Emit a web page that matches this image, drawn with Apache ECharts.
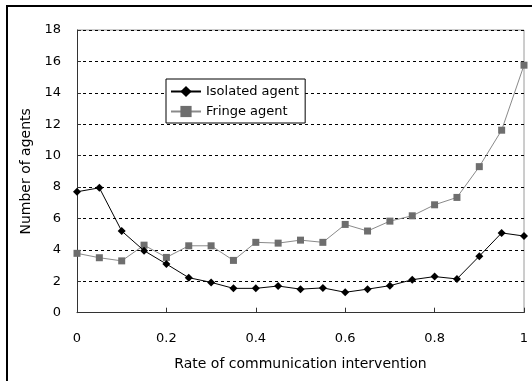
<!DOCTYPE html>
<html>
<head>
<meta charset="utf-8">
<script src="https://cdn.jsdelivr.net/npm/echarts@6/dist/echarts.min.js"></script>
<style>
html,body{margin:0;padding:0;background:#fff;}
#c{width:532px;height:381px;}
</style>
</head>
<body>
<div id="c"></div>
<script>
const rates = [0,0.05,0.1,0.15,0.2,0.25,0.3,0.35,0.4,0.45,0.5,0.55,0.6,0.65,0.7,0.75,0.8,0.85,0.9,0.95,1];
const isolatedAgent = [7.7,7.95,5.2,3.95,3.1,2.23,1.93,1.55,1.55,1.7,1.5,1.58,1.3,1.5,1.72,2.1,2.3,2.15,3.6,5.08,4.88];
const fringeAgent = [3.78,3.5,3.3,4.3,3.52,4.26,4.26,3.33,4.48,4.43,4.62,4.48,5.62,5.2,5.83,6.17,6.87,7.34,9.3,11.62,15.76];
const xTicks = [0,0.2,0.4,0.6,0.8,1];
const yTicks = [0,2,4,6,8,10,12,14,16,18];
const seriesNames = ['Isolated agent','Fringe agent'];
const xName = 'Rate of communication intervention';
const yName = 'Number of agents';

const font = 'DejaVu Sans';
const chart = echarts.init(document.getElementById('c'), null, {renderer:'canvas'});
const pairs = vals => rates.map((r,i)=>[r, vals[i]]);
chart.setOption({
  animation:false,
  backgroundColor:'#fff',
  textStyle:{fontFamily:font},
  graphic:[{
    type:'rect', shape:{x:7,y:6,width:540,height:390},
    style:{fill:'none', stroke:'#000', lineWidth:2}, silent:true, z:100
  },{
    type:'polyline', shape:{points:[[77,30],[524,30],[524,312.7]]},
    style:{fill:'none', stroke:'#9a9a9a', lineWidth:1}, z:0
  }],
  grid:{left:77,right:8,top:30,bottom:68.3,containLabel:false},
  legend:{
    orient:'vertical', left:166, top:79,
    data:seriesNames,
    backgroundColor:'#fff',
    borderColor:'#000', borderWidth:1,
    padding:[6,6,5,4], itemGap:7,
    itemWidth:30, itemHeight:14,
    textStyle:{fontFamily:font, fontSize:13, color:'#000'}
  },
  xAxis:{
    type:'value', min:0, max:1, interval:0.2,
    name:xName, nameLocation:'middle', nameGap:45,
    nameTextStyle:{fontFamily:font, fontSize:14, color:'#000'},
    axisLine:{show:true, lineStyle:{color:'#333', width:1}},
    axisTick:{show:true, inside:true, length:5, lineStyle:{color:'#333'}},
    axisLabel:{fontFamily:font, fontSize:13, color:'#000', margin:19,
      formatter:v=>{const t=xTicks.find(x=>Math.abs(x-v)<1e-9); return t===undefined?'':String(t);}},
    splitLine:{show:false}
  },
  yAxis:{
    type:'value', min:0, max:18, interval:2,
    name:yName, nameLocation:'middle', nameGap:44,
    nameTextStyle:{fontFamily:font, fontSize:14, color:'#000'},
    axisLine:{show:true, lineStyle:{color:'#333', width:1}},
    axisTick:{show:true, inside:true, length:4, lineStyle:{color:'#333'}},
    axisLabel:{fontFamily:font, fontSize:13, color:'#000', margin:16,
      formatter:v=>{const t=yTicks.find(x=>Math.abs(x-v)<1e-9); return t===undefined?'':String(t);}},
    splitLine:{show:true, lineStyle:{color:'#000', type:[3,3], width:1}}
  },
  series:[{
    name:seriesNames[0], type:'line', data:pairs(isolatedAgent),
    symbol:'diamond', symbolSize:8,
    itemStyle:{color:'#000'}, lineStyle:{color:'#000', width:1}, z:3
  },{
    name:seriesNames[1], type:'line', data:pairs(fringeAgent),
    symbol:'rect', symbolSize:7,
    itemStyle:{color:'#6e6e6e'}, lineStyle:{color:'#8a8a8a', width:1}, z:2
  }]
});
</script>
</body>
</html>
